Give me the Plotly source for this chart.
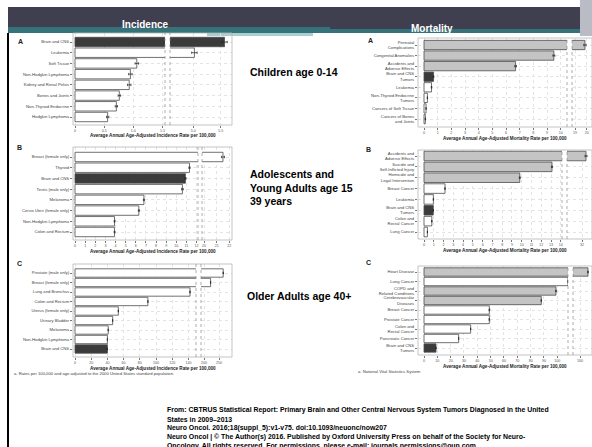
import plotly.graph_objects as go

W, H = 592, 447

# ---------------- data ----------------
inc_a_cat = ["Brain and CNS", "Leukemia", "Soft Tissue", "Non-Hodgkin Lymphoma",
             "Kidney and Renal Pelvis", "Bones and Joints", "Non-Thyroid Endocrine",
             "Hodgkin Lymphoma"]
inc_a_val = [5.57, 5.02, 1.06, 0.95, 0.93, 0.76, 0.71, 0.56]
inc_a_ci = [0.05, 0.05, 0.03, 0.03, 0.03, 0.02, 0.02, 0.02]

inc_b_cat = ["Breast (female only)", "Thyroid", "Brain and CNS", "Testis (male only)",
             "Melanoma", "Cervix Uteri (female only)", "Non-Hodgkin Lymphoma",
             "Colon and Rectum"]
inc_b_val = [21.5, 11.3, 10.9, 10.6, 6.8, 6.3, 3.9, 3.9]
inc_b_ci = [0.12, 0.06, 0.06, 0.08, 0.05, 0.05, 0.04, 0.04]

inc_c_cat = ["Prostate (male only)", "Breast (female only)", "Lung and Bronchus",
             "Colon and Rectum", "Uterus (female only)", "Urinary Bladder", "Melanoma",
             "Non-Hodgkin Lymphoma", "Brain and CNS"]
inc_c_val = [264, 222, 142, 90, 53.5, 46.5, 41, 40, 40]
inc_c_ci = [0.6, 0.5, 0.3, 0.2, 0.2, 0.2, 0.1, 0.1, 0.1]

mort_a_cat = ["Perinatal<br>Complications", "Congenital Anomalies",
              "Accidents and<br>Adverse Effects", "Brain and CNS<br>Tumors", "Leukemia",
              "Non-Thyroid Endocrine<br>Tumors", "Cancers of Soft Tissue",
              "Cancers of Bones<br>and Joints"]
mort_a_val = [19.85, 9.5, 6.7, 0.7, 0.55, 0.25, 0.15, 0.1]
mort_a_ci = [0.1, 0.07, 0.06, 0.02, 0.02, 0.01, 0.01, 0.01]
mort_a_kind = ["other", "other", "other", "brain", "cancer", "cancer", "cancer", "cancer"]

mort_b_cat = ["Accidents and<br>Adverse Effects", "Suicide and<br>Self-Inflicted Injury",
              "Homicide and<br>Legal Intervention", "Breast Cancer", "Leukemia",
              "Brain and CNS<br>Tumors", "Colon and<br>Rectal Cancer", "Lung Cancer"]
mort_b_val = [32.4, 13.1, 9.8, 2.15, 0.96, 0.95, 0.8, 0.35]
mort_b_ci = [0.1, 0.06, 0.05, 0.03, 0.02, 0.02, 0.02, 0.01]
mort_b_kind = ["other", "other", "other", "cancer", "cancer", "brain", "cancer", "cancer"]

mort_c_cat = ["Heart Disease", "Lung Cancer", "COPD and<br>Related Conditions",
              "Cerebrovascular<br>Diseases", "Breast Cancer", "Prostate Cancer",
              "Colon and<br>Rectal Cancer", "Pancreatic Cancer", "Brain and CNS<br>Tumors"]
mort_c_val = [168, 108, 99, 88, 49, 49, 35, 26, 9]
mort_c_ci = [0.3, 0.2, 0.2, 0.2, 0.2, 0.2, 0.1, 0.1, 0.05]
mort_c_kind = ["other", "cancer", "other", "other", "cancer", "cancer", "cancer", "cancer", "brain"]

inc_a_ticks = [[0, 0.5, 1.0, 1.5], [5.0, 5.5]]
inc_b_ticks = [list(range(0, 13)), [20, 21, 22]]
inc_c_ticks = [list(range(0, 141, 20)), [200, 250]]
mort_a_ticks = [list(range(0, 11)), [19, 20]]
mort_b_ticks = [list(range(0, 15)), [32, 33]]
mort_c_ticks = [list(range(0, 101, 10)), [160]]

citation = [
    "From: CBTRUS Statistical Report: Primary Brain and Other Central Nervous System Tumors Diagnosed in the United",
    "States in 2009\u20132013",
    "Neuro Oncol. 2016;18(suppl_5):v1-v75. doi:10.1093/neuonc/now207",
    "Neuro Oncol | \u00a9 The Author(s) 2016. Published by Oxford University Press on behalf of the Society for Neuro-",
    "Oncology. All rights reserved. For permissions, please e-mail: journals.permissions@oup.com.",
]

# ---------------- helpers ----------------
FONT = "Liberation Sans, Arial, sans-serif"
DARK = "#3b3b3b"
GREY = "#c4c4c4"
EDGE = "#4d4d4d"


def fx(px):
    return px / W


def fy(py):
    return 1 - py / H


def cat_range(top, bottom, c_first, c_last, n):
    pitch = (c_last - c_first) / (n - 1)
    lo = -(c_first - top) / pitch
    hi = (n - 1) + (bottom - c_last) / pitch
    return [hi, lo]


def lin_range(d0, d1, p1, v1, p2, v2):
    s = (p2 - p1) / (v2 - v1)
    return [v1 + (d0 - p1) / s, v1 + (d1 - p1) / s]


fig = go.Figure()
layout = dict(shapes=[], annotations=[])


def fmt_ticks(t):
    return [("%g" % v) if not isinstance(v, float) else ("%.1f" % v) for v in t]


def add_panel(idx, cats, vals, ci, colors, ticks, box, brk, calib, cat_pos, title, letter, letter_xy):
    x0, y0, x1, y1 = box
    b0, b1 = brk
    xl = "x%d" % (2 * idx + 1)
    xr = "x%d" % (2 * idx + 2)
    yy = "y%d" % (idx + 1)
    n = len(cats)
    yr = cat_range(y0, y1, cat_pos[0], cat_pos[1], n)
    for xa in (xl, xr):
        fig.add_trace(go.Bar(
            y=cats, x=vals, orientation="h", xaxis=xa, yaxis=yy, width=0.88,
            marker=dict(color=colors, line=dict(color=EDGE, width=0.8)),
            error_x=dict(type="data", array=ci, color="#222222", thickness=0.7, width=1.2),
            showlegend=False, hoverinfo="x+y"))
    axcommon = dict(showgrid=True, gridcolor="#e4e4e4", gridwidth=0.5, griddash="dot",
                    zeroline=False, showline=False, ticks="outside", ticklen=2,
                    tickwidth=0.5, tickcolor="#777", tickfont=dict(size=3.6, color="#555", family=FONT),
                    anchor=yy, fixedrange=True)
    (lp1, lv1, lp2, lv2), (rp1, rv1, rp2, rv2) = calib
    layout["xaxis%d" % (2 * idx + 1)] = dict(
        axcommon, domain=[fx(x0), fx(b0)], range=lin_range(x0, b0, lp1, lv1, lp2, lv2),
        tickvals=ticks[0], ticktext=fmt_ticks(ticks[0]))
    layout["xaxis%d" % (2 * idx + 2)] = dict(
        axcommon, domain=[fx(b1), fx(x1)], range=lin_range(b1, x1, rp1, rv1, rp2, rv2),
        tickvals=ticks[1], ticktext=fmt_ticks(ticks[1]))
    layout["yaxis%d" % (idx + 1)] = dict(
        domain=[fy(y1), fy(y0)], range=yr, anchor=xl, type="category",
        showgrid=True, gridcolor="#e4e4e4", gridwidth=0.5, griddash="dot",
        zeroline=False, showline=False, ticks="outside", ticklen=2, tickwidth=0.5,
        tickcolor="#777", tickfont=dict(size=4.2, color="#444", family=FONT), fixedrange=True)
    # panel border and axis-break markers
    layout["shapes"].append(dict(type="rect", xref="paper", yref="paper",
                                 x0=fx(x0), x1=fx(x1), y0=fy(y1), y1=fy(y0),
                                 line=dict(color="#b5b5b5", width=0.8)))
    for bx in (b0, b1):
        layout["shapes"].append(dict(type="line", xref="paper", yref="paper",
                                     x0=fx(bx), x1=fx(bx), y0=fy(y1), y1=fy(y0),
                                     line=dict(color="#8a8a8a", width=0.7, dash="dot")))
    layout["annotations"].append(dict(
        text="<b>%s</b>" % title, xref="paper", yref="paper", x=fx((x0 + x1) / 2),
        y=fy(y1 + 11), showarrow=False, font=dict(size=4.6, color="#222", family=FONT),
        xanchor="center", yanchor="middle"))
    layout["annotations"].append(dict(
        text="<b>%s</b>" % letter, xref="paper", yref="paper", x=fx(letter_xy[0]),
        y=fy(letter_xy[1]), showarrow=False, font=dict(size=7, color="#222", family=FONT),
        xanchor="center", yanchor="middle"))


def inc_colors(cats):
    return [DARK if c.startswith("Brain") else "white" for c in cats]


def mort_colors(kinds):
    return [DARK if k == "brain" else (GREY if k == "other" else "white") for k in kinds]


INC_T = "Average Annual Age-Adjusted Incidence Rate per 100,000"
MORT_T = "Average Annual Age-Adjusted Mortality Rate per 100,000"

add_panel(0, inc_a_cat, inc_a_val, inc_a_ci, inc_colors(inc_a_cat), inc_a_ticks,
          (73, 33, 232, 125), (165, 170),
          ((75, 0.0, 133.3, 1.0), (193.3, 5.0, 220.7, 5.5)), (42, 117), INC_T, "A", (20, 41))
add_panel(1, inc_b_cat, inc_b_val, inc_b_ci, inc_colors(inc_b_cat), inc_b_ticks,
          (73, 147, 232, 240), (198, 202),
          ((75, 0, 196.6, 12), (204, 20, 229.3, 22)), (157, 232), INC_T, "B", (19, 147))
add_panel(2, inc_c_cat, inc_c_val, inc_c_ci, inc_colors(inc_c_cat), inc_c_ticks,
          (73, 264, 232, 357), (196, 201),
          ((75, 0, 188.4, 140), (204, 200, 219, 250)), (273, 349), INC_T, "C", (19, 263))
add_panel(3, mort_a_cat, mort_a_val, mort_a_ci, mort_colors(mort_a_kind), mort_a_ticks,
          (418, 38, 592, 127), (567, 572),
          ((424, 0, 560.7, 10), (575, 19, 586.7, 20)), (45, 119), MORT_T, "A", (370, 40))
add_panel(4, mort_b_cat, mort_b_val, mort_b_ci, mort_colors(mort_b_kind), mort_b_ticks,
          (418, 150, 592, 239), (562, 567),
          ((424, 0, 560.8, 14), (582, 32, 592, 33)), (156, 232), MORT_T, "B", (368, 150))
add_panel(5, mort_c_cat, mort_c_val, mort_c_ci, mort_colors(mort_c_kind), mort_c_ticks,
          (418, 266, 592, 355), (568, 573),
          ((424, 0, 557.3, 100), (580, 160, 590, 170)), (272, 348), MORT_T, "C", (368, 262))

# ---------------- slide decoration ----------------
S = layout["shapes"]
S.insert(0, dict(type="rect", xref="paper", yref="paper", x0=fx(8), x1=1, y0=fy(27), y1=fy(7),
                 fillcolor="#3f3f4f", line=dict(width=0), layer="below"))
S.insert(1, dict(type="rect", xref="paper", yref="paper", x0=fx(8), x1=1, y0=fy(33), y1=fy(27),
                 fillcolor="#35727a", line=dict(width=0), layer="below"))
S.insert(2, dict(type="rect", xref="paper", yref="paper", x0=fx(330), x1=1, y0=fy(29), y1=fy(7),
                 fillcolor="#3f3f4f", line=dict(width=0), layer="below"))
S.insert(3, dict(type="rect", xref="paper", yref="paper", x0=fx(207), x1=fx(313), y0=fy(36), y1=fy(33),
                 fillcolor="#a9cfd0", line=dict(width=0), layer="below"))
S.insert(4, dict(type="rect", xref="paper", yref="paper", x0=fx(580), x1=1, y0=fy(36), y1=1,
                 fillcolor="#b9bcc4", line=dict(width=0), layer="below"))
S.append(dict(type="line", xref="paper", yref="paper", x0=fx(8), x1=fx(8), y0=0, y1=fy(33),
              line=dict(color="black", width=2)))

A = layout["annotations"]
A.append(dict(text="<b>Incidence</b>", xref="paper", yref="paper", x=fx(120), y=fy(17),
              showarrow=False, font=dict(size=10, color="white", family=FONT)))
A.append(dict(text="<b>Mortality</b>", xref="paper", yref="paper", x=fx(455), y=fy(21),
              showarrow=False, font=dict(size=10, color="#ffffff", family=FONT)))
A.append(dict(text="<b>Children age 0-14</b>", xref="paper", yref="paper", x=fx(248), y=fy(64),
              xanchor="left", showarrow=False, font=dict(size=10.5, color="black", family=FONT)))
A.append(dict(text="<b>Adolescents and<br>Young Adults age 15<br>39 years</b>", xref="paper",
              yref="paper", x=fx(248), y=fy(187), xanchor="left", align="left", showarrow=False,
              font=dict(size=10.5, color="black", family=FONT)))
A.append(dict(text="<b>Older Adults age 40+</b>", xref="paper", yref="paper", x=fx(245), y=fy(304),
              xanchor="left", showarrow=False, font=dict(size=10.5, color="black", family=FONT)))
A.append(dict(text="a. Rates per 100,000 and age-adjusted to the 2000 United States standard population.",
              xref="paper", yref="paper", x=fx(12), y=fy(378), xanchor="left", showarrow=False,
              font=dict(size=4.2, color="#444", family=FONT)))
A.append(dict(text="a. National Vital Statistics System", xref="paper", yref="paper", x=fx(356),
              y=fy(376), xanchor="left", showarrow=False, font=dict(size=4.2, color="#444", family=FONT)))
for i, line in enumerate(citation):
    A.append(dict(text="<b>%s</b>" % line, xref="paper", yref="paper", x=fx(165), y=fy(410 + 9 * i),
                  xanchor="left", yanchor="middle", showarrow=False,
                  font=dict(size=6.9, color="black", family=FONT)))

fig.update_layout(width=W, height=H, margin=dict(l=0, r=0, t=0, b=0),
                  paper_bgcolor="white", plot_bgcolor="white", bargap=0.1,
                  **layout)
fig.write_html("out.html")
